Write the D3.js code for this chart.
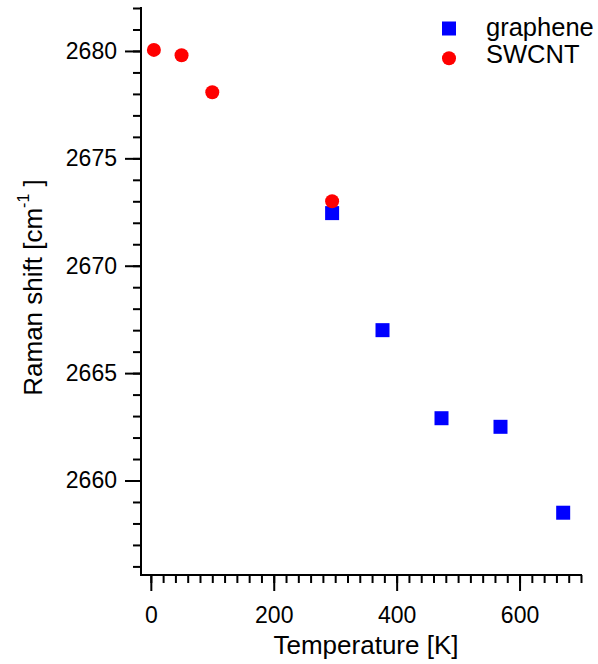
<!DOCTYPE html>
<html><head><meta charset="utf-8">
<script src="https://cdn.jsdelivr.net/npm/d3@7"></script>
<style>body{margin:0;background:#fff}</style>
</head><body>
<script>
const grapheneT = [295, 377, 473, 569, 671];
const grapheneShift = [2672.45, 2667.0, 2662.9, 2662.5, 2658.5];
const swcntT = [5, 50, 100, 295];
const swcntShift = [2680.05, 2679.8, 2678.08, 2673.0];
const xTicks = [0, 200, 400, 600];
const yTicks = [2660, 2665, 2670, 2675, 2680];

const W = 598, H = 664;
const mLeft = 141, mRight = 581, mTop = 8, mBottom = 575;
const font = "Liberation Sans, Arial, sans-serif";

const svg = d3.select("body").append("svg").attr("width", W).attr("height", H);
const x = d3.scaleLinear().domain([-16, 700]).range([mLeft, mRight]);
const y = d3.scaleLinear().domain([2655.6, 2682]).range([mBottom, mTop]);

// x axis
const gx = svg.append("g").attr("transform", `translate(0,${mBottom})`);
gx.call(d3.axisBottom(x).tickValues(d3.range(0, 701, 20)).tickSize(8).tickFormat(""))
  .call(g => g.select(".domain").remove());
gx.append("g").call(d3.axisBottom(x).tickValues(xTicks).tickSize(16).tickFormat(d3.format("d")))
  .call(g => g.select(".domain").remove());
gx.append("line").attr("x1", mLeft - 1).attr("x2", mRight + 1).attr("stroke", "#000").attr("stroke-width", 2);
gx.selectAll("line").attr("stroke-width", 2);
gx.selectAll("text").attr("font-family", font).attr("font-size", 23).attr("fill", "#000").attr("dy", 29);

// y axis
const gy = svg.append("g").attr("transform", `translate(${mLeft},0)`);
gy.call(d3.axisLeft(y).tickValues(d3.range(2656, 2682.5, 1)).tickSize(8).tickFormat(""))
  .call(g => g.select(".domain").remove());
gy.append("g").call(d3.axisLeft(y).tickValues(yTicks).tickSize(16).tickPadding(8).tickFormat(d3.format("d")))
  .call(g => g.select(".domain").remove());
gy.append("line").attr("y1", mTop - 1).attr("y2", mBottom + 1).attr("stroke", "#000").attr("stroke-width", 2);
gy.selectAll("line").attr("stroke-width", 2);
gy.selectAll("text").attr("font-family", font).attr("font-size", 23).attr("fill", "#000");

// axis titles
svg.append("text").attr("x", 366).attr("y", 654).attr("text-anchor", "middle")
  .attr("font-family", font).attr("font-size", 26).text("Temperature [K]");
const yt = svg.append("text").attr("transform", "translate(42,287.5) rotate(-90)").attr("text-anchor", "middle")
  .attr("font-family", font).attr("font-size", 26);
yt.append("tspan").text("Raman shift [cm");
yt.append("tspan").attr("font-size", 16).attr("dy", -13).text("-1");
yt.append("tspan").attr("dy", 13).text(" ]");

// data
const gData = grapheneT.map((t, i) => ({t, v: grapheneShift[i]}));
const sData = swcntT.map((t, i) => ({t, v: swcntShift[i]}));
const sq = 14;
svg.append("g").selectAll("rect").data(gData).join("rect")
  .attr("x", d => x(d.t) - sq / 2).attr("y", d => y(d.v) - sq / 2)
  .attr("width", sq).attr("height", sq).attr("fill", "#0000ff");
svg.append("g").selectAll("circle").data(sData).join("circle")
  .attr("cx", d => x(d.t)).attr("cy", d => y(d.v)).attr("r", 7).attr("fill", "#ff0000");

// legend
svg.append("rect").attr("x", 449 - sq / 2).attr("y", 28.5 - sq / 2).attr("width", sq).attr("height", sq).attr("fill", "#0000ff");
svg.append("circle").attr("cx", 449).attr("cy", 58.3).attr("r", 7).attr("fill", "#ff0000");
svg.append("text").attr("x", 486).attr("y", 36).attr("font-family", font).attr("font-size", 25.5).text("graphene");
svg.append("text").attr("x", 486).attr("y", 63).attr("font-family", font).attr("font-size", 25.5).text("SWCNT");
</script>
</body></html>
